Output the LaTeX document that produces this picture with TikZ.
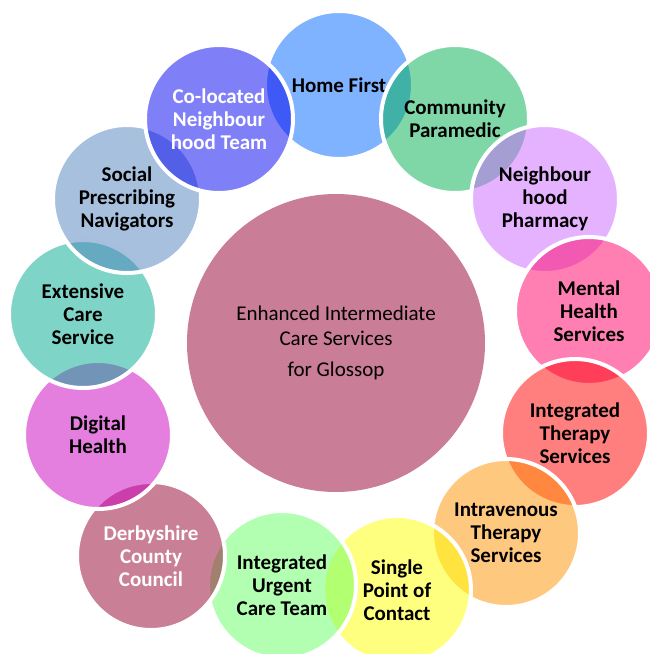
\documentclass[tikz,border=0pt]{standalone}
\usepackage{fontspec}
\setmainfont{Carlito}
\definecolor{cHF}{RGB}{0,102,255}
\definecolor{cCP}{RGB}{0,176,80}
\definecolor{cNP}{RGB}{204,102,255}
\definecolor{cMH}{RGB}{255,0,102}
\definecolor{cIT}{RGB}{255,0,0}
\definecolor{cIV}{RGB}{255,145,0}
\definecolor{cSP}{RGB}{255,255,0}
\definecolor{cIU}{RGB}{102,255,102}
\definecolor{cDC}{RGB}{148,2,46}
\definecolor{cDH}{RGB}{204,0,192}
\definecolor{cEC}{RGB}{0,170,145}
\definecolor{cSPN}{RGB}{79,129,189}
\definecolor{cCL}{RGB}{0,0,240}
\definecolor{cCenter}{RGB}{201,125,150}
\begin{document}
\begin{tikzpicture}[x=1pt,y=-1pt,
  bub/.style={circle, minimum size=148pt, inner sep=0pt, fill opacity=0.5,
    text opacity=1, draw=white, draw opacity=1, line width=4pt,
    font=\bfseries\fontsize{21}{23}\selectfont, align=center, text=black},
  hub/.style={circle, minimum size=298pt, inner sep=0pt, fill=cCenter,
    font=\fontsize{21}{25}\selectfont, align=center, text=black}]
\useasboundingbox (0,0) rectangle (650,654);
\node[hub] (centre) at (336,343) {Enhanced Intermediate\\Care Services\\[6pt]for Glossop};
\node[bub, fill=cHF] (hf) at (339,85) {Home First};
\node[bub, fill=cCP] (cp) at (455,119) {Community\\Paramedic};
\node[bub, fill=cNP] (np) at (545,199) {Neighbour\\hood\\Pharmacy};
\node[bub, fill=cMH] (mh) at (589,311) {Mental\\Health\\Services};
\node[bub, fill=cIT] (it) at (575,433) {Integrated\\Therapy\\Services};
\node[bub, fill=cIV] (iv) at (506,533) {Intravenous\\Therapy\\Services};
\node[bub, fill=cSP] (sp) at (397,590) {Single\\Point of\\Contact};
\node[bub, fill=cIU] (iu) at (282,585) {Integrated\\Urgent\\Care Team};
\node[bub, fill=cDC, text=white] (dc) at (151,556) {Derbyshire\\County\\Council};
\node[bub, fill=cDH] (dh) at (98,435) {Digital\\Health};
\node[bub, fill=cEC] (ec) at (83,314) {Extensive\\Care\\Service};
\node[bub, fill=cSPN] (spn) at (127,199) {Social\\Prescribing\\Navigators};
\node[bub, fill=cCL, text=white] (cl) at (219,119) {Co-located\\Neighbour\\hood Team};
\end{tikzpicture}
\end{document}
